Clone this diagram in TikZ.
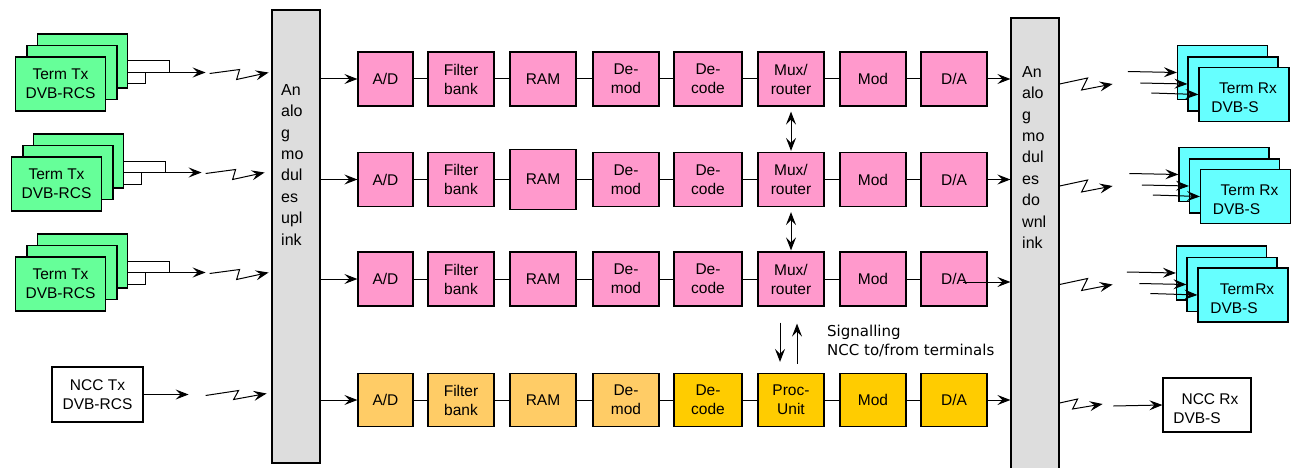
\documentclass[tikz,border=0pt]{standalone}
\usepackage{fontspec}
\setmainfont{Liberation Sans}
\newfontfamily\notefont{DejaVu Sans}
\usetikzlibrary{arrows.meta,calc,backgrounds}
\definecolor{chpink}{HTML}{FF99CC}
\definecolor{chorange}{HTML}{FFCC66}
\definecolor{chgold}{HTML}{FFCC00}
\definecolor{txgreen}{HTML}{66FF99}
\definecolor{rxcyan}{HTML}{66FFFF}
\definecolor{anagray}{HTML}{DDDDDD}
\tikzset{
  blk/.style={draw=black, line width=1.2pt, minimum width=66pt, minimum height=54pt,
    inner sep=0pt, align=center, font=\fontsize{15.5}{19}\selectfont},
  pinkblk/.style={blk, fill=chpink},
  orangeblk/.style={blk, fill=chorange, minimum height=53pt},
  goldblk/.style={blk, fill=chgold, minimum height=53pt},
  txblk/.style={blk, fill=txgreen, minimum width=90pt},
  rxblk/.style={blk, fill=rxcyan, minimum width=90pt},
  nccblk/.style={blk, fill=white},
  anablk/.style={draw=black, line width=1.2pt, fill=anagray, minimum width=48pt, inner sep=0pt},
  anatxt/.style={align=left, inner sep=0pt, anchor=north west, font=\fontsize{16}{21.4}\selectfont},
  lbl/.style={inner sep=0pt, font=\fontsize{15.5}{19}\selectfont},
  link/.style={line width=1pt},
  arr/.style={line width=1pt, -{Stealth[length=13pt,width=10pt,inset=5pt]}},
  darr/.style={line width=1pt, {Stealth[length=13pt,width=10pt,inset=5pt]}-{Stealth[length=13pt,width=10pt,inset=5pt]}},
}
\begin{document}
\begin{tikzpicture}[x=1pt,y=-1pt]
\clip (0,0) rectangle (1298,468);
\begin{scope}[on background layer]
  \fill[white] (0,0) rectangle (1298,468);
\end{scope}

% analog front ends
\node[anablk, minimum height=453pt] (up) at (296,236.5) {};
\node[anatxt] (uptxt) at (281,84) {An\\alo\\g\\mo\\dul\\es\\upl\\ink};
\node[anablk, minimum height=460pt] (down) at (1035,248) {};
\node[anatxt] (downtxt) at (1022,66) {An\\alo\\g\\mo\\dul\\es\\do\\wnl\\ink};

% three traffic processing chains
\foreach \r/\y/\rh in {1/79/54,2/179.5/60,3/279/54}{
  \node[pinkblk, minimum width=55pt] (ad\r) at (385.5,\y) {A/D};
  \node[pinkblk] (fb\r) at (461,\y) {Filter\\bank};
  \node[pinkblk, minimum height=\rh pt] (ram\r) at (543,\y) {RAM};
  \node[pinkblk] (dm\r) at (626,\y) {De-\\mod};
  \node[pinkblk, minimum width=68pt] (dc\r) at (708,\y) {De-\\code};
  \node[pinkblk] (mux\r) at (791,\y) {Mux/\\router};
  \node[pinkblk] (mod\r) at (873,\y) {Mod};
  \node[pinkblk] (da\r) at (954,\y) {D/A};
  \draw[link] (ad\r) -- (fb\r);
  \draw[link] (fb\r) -- (ram\r);
  \draw[link] (ram\r) -- (dm\r);
  \draw[link] (dm\r) -- (dc\r);
  \draw[link] (dc\r) -- (mux\r);
  \draw[link] (mux\r) -- (mod\r);
  \draw[link] (mod\r) -- (da\r);
  \draw[arr] (up.east |- ad\r.west) -- (ad\r.west);
}
\draw[arr] (da1.east) -- (down.west |- da1.east);
\draw[arr] (da2.east) -- (down.west |- da2.east);
\coordinate (da3in) at ($(da3.center)+(9,3)$);
\draw[arr] (da3in) -- (down.west |- da3in);

% signalling chain
\node[orangeblk, minimum width=55pt] (ad4) at (385.5,400) {A/D};
\node[orangeblk] (fb4) at (461,400) {Filter\\bank};
\node[orangeblk] (ram4) at (543,400) {RAM};
\node[orangeblk] (dm4) at (626,400) {De-\\mod};
\node[goldblk, minimum width=68pt] (dc4) at (708,400) {De-\\code};
\node[goldblk] (proc) at (791,400) {Proc-\\Unit};
\node[goldblk] (mod4) at (873,400) {Mod};
\node[goldblk] (da4) at (954,400) {D/A};
\draw[link] (ad4) -- (fb4);
\draw[link] (fb4) -- (ram4);
\draw[link] (ram4) -- (dm4);
\draw[link] (dm4) -- (dc4);
\draw[link] (dc4) -- (proc);
\draw[link] (proc) -- (mod4);
\draw[link] (mod4) -- (da4);
\draw[arr] (up.east |- ad4.west) -- (ad4.west);
\draw[arr] (da4.east) -- (down.west |- da4.east);

% routing between chains
\draw[darr, shorten <=5pt, shorten >=1pt] (mux1.south) -- (mux2.north);
\draw[darr, shorten <=5pt, shorten >=1pt] (mux2.south) -- (mux3.north);
\coordinate (sdA) at ($(mux3.south)+(-11,16)$);
\coordinate (sdB) at ($(proc.north)+(-11,-11)$);
\draw[arr] (sdA) -- (sdB);
\coordinate (suA) at ($(proc.north)+(6,-9)$);
\coordinate (suB) at ($(mux3.south)+(6,17)$);
\draw[arr] (suA) -- (suB);
\node[anchor=west, align=left, inner sep=0pt, font=\notefont\fontsize{15}{18.5}\selectfont]
  (sig) at (827,341) {Signalling\\NCC to/from terminals};

% transmitting terminals
\foreach \r/\fx/\fy in {1/60.5/84,2/56.5/184,3/60.5/284}{
  \node[txblk] (tx\r a) at (\fx+22,\fy-23) {};
  \node[txblk] (tx\r b) at (\fx+11.5,\fy-11.5) {};
  \node[txblk] (tx\r c) at (\fx,\fy) {Term Tx\\DVB-RCS};
  \coordinate (j\r) at ($(tx\r b.east)+(52,0)$);
  \coordinate (k\r) at ($(tx\r b.east)+(28,0)$);
  \coordinate (e\r) at ($(tx\r b.east)+(88,0)$);
  \begin{scope}[on background layer]
    \draw[link] (tx\r a.east) -| (j\r);
    \draw[link] (tx\r c.east) -| (k\r);
    \draw[link] (tx\r b.east) -- (j\r);
    \draw[arr, line width=1.6pt] (j\r) -- (e\r);
  \end{scope}
  \coordinate (z\r) at ($(tx\r b.east)+(92,1)$);
  \draw[arr] (z\r) -- ++(30,-4) -- ++(-3,10) -- ++(32,-7);
}
\node[nccblk, minimum width=91pt, minimum height=55pt] (ncctx) at (97.5,394.5) {NCC Tx\\DVB-RCS};
\coordinate (e4) at ($(ncctx.east)+(45,0)$);
\draw[arr] (ncctx.east) -- (e4);
\coordinate (z4) at ($(ncctx.east)+(62,1)$);
\draw[arr] (z4) -- ++(33,-5) -- ++(-5,9) -- ++(33,-6);

% receiving terminals
\foreach \r/\fx/\fy/\lab in {1/1244/94.5/{Term Rx},2/1245.5/196.5/{Term Rx},3/1243/295/{Term\hspace{1pt}Rx}}{
  \node[rxblk] (rx\r a) at (\fx-21.5,\fy-22) {};
  \node[rxblk] (rx\r b) at (\fx-11,\fy-10.5) {};
  \node[rxblk] (rx\r c) at (\fx,\fy) {};
  \node[lbl] (rx\r t) at ($(rx\r c.center)+(4,-6)$) {\lab};
  \node[lbl] (rx\r s) at ($(rx\r c.center)+(-9,13)$) {DVB-S};
  \draw[arr] ($(rx\r a.west)+(-49,-1)$) -- (rx\r a.west);
  \draw[arr] ($(rx\r b.west)+(-47,-1)$) -- (rx\r b.west);
  \draw[arr] ($(rx\r c.west)+(-47,-1.5)$) -- (rx\r c.west);
  \coordinate (w\r) at (down.east |- rx\r b.west);
  \draw[arr] (w\r) -- ++(28,-6) -- ++(-6,12) -- ++(31,-6);
}
\node[nccblk, minimum width=88pt, minimum height=54pt] (nccrx) at (1207,405) {};
\node[lbl] (nccrxt) at ($(nccrx.center)+(3,-6)$) {NCC Rx};
\node[lbl] (nccrxs) at ($(nccrx.center)+(-10,13)$) {DVB-S};
\draw[arr] ($(nccrx.west)+(-49,1)$) -- (nccrx.west);
\coordinate (w4) at ($(down.east |- nccrx.west)+(0,-2)$);
\draw[arr] (w4) -- ++(18,-4) -- ++(-5,10) -- ++(30,-5);
\end{tikzpicture}
\end{document}
